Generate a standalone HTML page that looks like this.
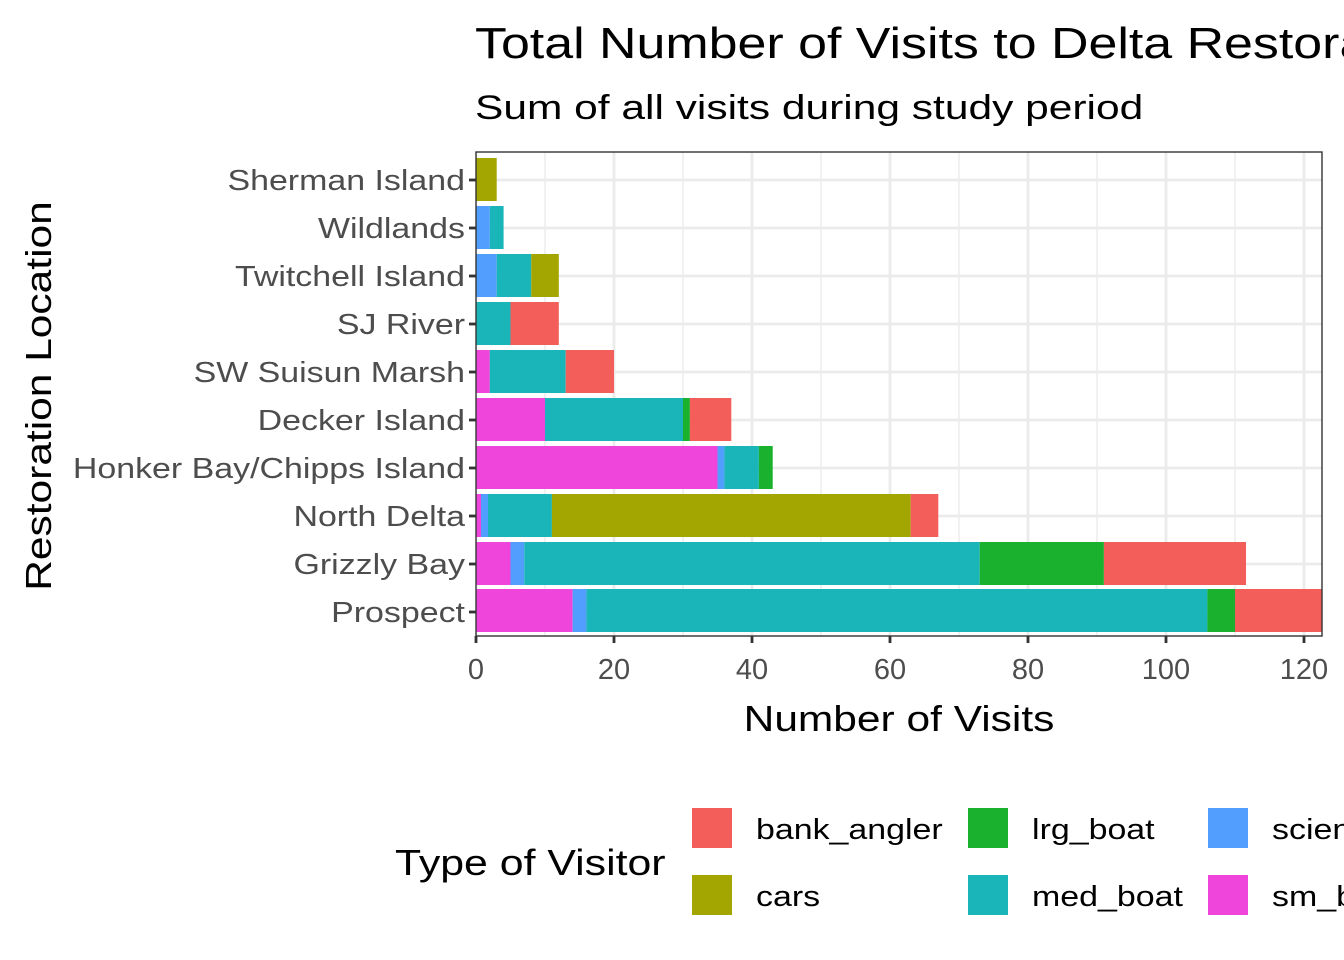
<!DOCTYPE html>
<html><head><meta charset="utf-8"><style>
html,body{margin:0;padding:0;background:#fff;}
svg{display:block;font-family:"Liberation Sans",Arial,sans-serif;}
</style></head><body>
<svg width="1344" height="960" viewBox="0 0 1344 960" xmlns="http://www.w3.org/2000/svg">
<rect width="1344" height="960" fill="#fff"/>
<text x="475" y="58" font-size="44" fill="#000" transform="matrix(1.18,0,0,1,-85.5,0)">Total Number of Visits to Delta Restoration Sites</text>
<text x="475" y="119" font-size="34" fill="#000" transform="matrix(1.25,0,0,1,-118.75,0)">Sum of all visits during study period</text>
<defs><clipPath id="p"><rect x="476" y="152" width="846" height="484"/></clipPath></defs>
<g clip-path="url(#p)">
<g stroke="#ebebeb" stroke-width="1.4">
<line x1="545" y1="152" x2="545" y2="636"/><line x1="683" y1="152" x2="683" y2="636"/><line x1="821" y1="152" x2="821" y2="636"/><line x1="959" y1="152" x2="959" y2="636"/><line x1="1097" y1="152" x2="1097" y2="636"/><line x1="1235" y1="152" x2="1235" y2="636"/>
</g>
<g stroke="#ebebeb" stroke-width="2.8">
<line x1="476" y1="152" x2="476" y2="636"/><line x1="614" y1="152" x2="614" y2="636"/><line x1="752" y1="152" x2="752" y2="636"/><line x1="890" y1="152" x2="890" y2="636"/><line x1="1028" y1="152" x2="1028" y2="636"/><line x1="1166" y1="152" x2="1166" y2="636"/><line x1="1304" y1="152" x2="1304" y2="636"/>
<line x1="476" y1="180" x2="1322" y2="180"/><line x1="476" y1="228" x2="1322" y2="228"/><line x1="476" y1="276" x2="1322" y2="276"/><line x1="476" y1="324" x2="1322" y2="324"/><line x1="476" y1="372" x2="1322" y2="372"/><line x1="476" y1="420" x2="1322" y2="420"/><line x1="476" y1="468" x2="1322" y2="468"/><line x1="476" y1="516" x2="1322" y2="516"/><line x1="476" y1="564" x2="1322" y2="564"/><line x1="476" y1="612" x2="1322" y2="612"/>
</g>
<rect x="476" y="158" width="20.7" height="43" fill="#A3A500"/>
<rect x="476" y="206" width="13.8" height="43" fill="#529EFF"/>
<rect x="489.8" y="206" width="13.8" height="43" fill="#19B5B9"/>
<rect x="476" y="254" width="20.7" height="43" fill="#529EFF"/>
<rect x="496.7" y="254" width="34.5" height="43" fill="#19B5B9"/>
<rect x="531.2" y="254" width="27.6" height="43" fill="#A3A500"/>
<rect x="476" y="302" width="34.5" height="43" fill="#19B5B9"/>
<rect x="510.5" y="302" width="48.3" height="43" fill="#F35E5A"/>
<rect x="476" y="350" width="13.8" height="43" fill="#F045DA"/>
<rect x="489.8" y="350" width="75.9" height="43" fill="#19B5B9"/>
<rect x="565.7" y="350" width="48.3" height="43" fill="#F35E5A"/>
<rect x="476" y="398" width="69" height="43" fill="#F045DA"/>
<rect x="545" y="398" width="138" height="43" fill="#19B5B9"/>
<rect x="683" y="398" width="6.9" height="43" fill="#1AB12F"/>
<rect x="689.9" y="398" width="41.4" height="43" fill="#F35E5A"/>
<rect x="476" y="446" width="241.5" height="43" fill="#F045DA"/>
<rect x="717.5" y="446" width="6.9" height="43" fill="#529EFF"/>
<rect x="724.4" y="446" width="34.5" height="43" fill="#19B5B9"/>
<rect x="758.9" y="446" width="13.8" height="43" fill="#1AB12F"/>
<rect x="476" y="494" width="5" height="43" fill="#F045DA"/>
<rect x="481" y="494" width="7" height="43" fill="#529EFF"/>
<rect x="488" y="494" width="63.9" height="43" fill="#19B5B9"/>
<rect x="551.9" y="494" width="358.8" height="43" fill="#A3A500"/>
<rect x="910.7" y="494" width="27.6" height="43" fill="#F35E5A"/>
<rect x="476" y="542" width="34.5" height="43" fill="#F045DA"/>
<rect x="510.5" y="542" width="13.8" height="43" fill="#529EFF"/>
<rect x="524.3" y="542" width="455.4" height="43" fill="#19B5B9"/>
<rect x="979.7" y="542" width="124.2" height="43" fill="#1AB12F"/>
<rect x="1103.9" y="542" width="142.1" height="43" fill="#F35E5A"/>
<rect x="476" y="589" width="96.6" height="43" fill="#F045DA"/>
<rect x="572.6" y="589" width="13.8" height="43" fill="#529EFF"/>
<rect x="586.4" y="589" width="621" height="43" fill="#19B5B9"/>
<rect x="1207.4" y="589" width="27.6" height="43" fill="#1AB12F"/>
<rect x="1235" y="589" width="90" height="43" fill="#F35E5A"/>
</g>
<rect x="476" y="152" width="846" height="484" fill="none" stroke="#333" stroke-width="1.4"/>
<g stroke="#333" stroke-width="2.8">
<line x1="476" y1="636" x2="476" y2="643"/><line x1="614" y1="636" x2="614" y2="643"/><line x1="752" y1="636" x2="752" y2="643"/><line x1="890" y1="636" x2="890" y2="643"/><line x1="1028" y1="636" x2="1028" y2="643"/><line x1="1166" y1="636" x2="1166" y2="643"/><line x1="1304" y1="636" x2="1304" y2="643"/>
<line x1="469" y1="180" x2="476" y2="180"/><line x1="469" y1="228" x2="476" y2="228"/><line x1="469" y1="276" x2="476" y2="276"/><line x1="469" y1="324" x2="476" y2="324"/><line x1="469" y1="372" x2="476" y2="372"/><line x1="469" y1="420" x2="476" y2="420"/><line x1="469" y1="468" x2="476" y2="468"/><line x1="469" y1="516" x2="476" y2="516"/><line x1="469" y1="564" x2="476" y2="564"/><line x1="469" y1="612" x2="476" y2="612"/>
</g>
<g font-size="29" fill="#4d4d4d" text-anchor="end" transform="matrix(1.17,0,0,1,-79.05,0)">
<text x="465" y="190">Sherman Island</text><text x="465" y="238">Wildlands</text><text x="465" y="286">Twitchell Island</text><text x="465" y="334">SJ River</text><text x="465" y="382">SW Suisun Marsh</text><text x="465" y="430">Decker Island</text><text x="465" y="478">Honker Bay/Chipps Island</text><text x="465" y="526">North Delta</text><text x="465" y="574">Grizzly Bay</text><text x="465" y="622">Prospect</text>
</g>
<g font-size="29" fill="#4d4d4d" text-anchor="middle">
<text x="476" y="679">0</text><text x="614" y="679">20</text><text x="752" y="679">40</text><text x="890" y="679">60</text><text x="1028" y="679">80</text><text x="1166" y="679">100</text><text x="1304" y="679">120</text>
</g>
<text x="899" y="731" font-size="36" text-anchor="middle" fill="#000" transform="matrix(1.18,0,0,1,-161.8,0)">Number of Visits</text>
<g transform="translate(51,396) rotate(-90)"><text x="0" y="0" font-size="36" text-anchor="middle" fill="#000" transform="scale(1.18,1)">Restoration Location</text></g>
<text x="395" y="875" font-size="36" fill="#000" transform="matrix(1.19,0,0,1,-75,0)">Type of Visitor</text>
<rect x="692" y="808" width="40" height="40" fill="#F35E5A"/><text x="756" y="839" font-size="29" fill="#000" transform="matrix(1.17,0,0,1,-128.5,0)">bank_angler</text>
<rect x="692" y="875" width="40" height="40" fill="#A3A500"/><text x="756" y="906" font-size="29" fill="#000" transform="matrix(1.17,0,0,1,-128.5,0)">cars</text>
<rect x="968" y="808" width="40" height="40" fill="#1AB12F"/><text x="1032" y="839" font-size="29" fill="#000" transform="matrix(1.17,0,0,1,-175.4,0)">lrg_boat</text>
<rect x="968" y="875" width="40" height="40" fill="#19B5B9"/><text x="1032" y="906" font-size="29" fill="#000" transform="matrix(1.17,0,0,1,-175.4,0)">med_boat</text>
<rect x="1208" y="808" width="40" height="40" fill="#529EFF"/><text x="1272" y="839" font-size="29" fill="#000" transform="matrix(1.17,0,0,1,-216.2,0)">science</text>
<rect x="1208" y="875" width="40" height="40" fill="#F045DA"/><text x="1272" y="906" font-size="29" fill="#000" transform="matrix(1.17,0,0,1,-216.2,0)">sm_boat</text>
</svg>
</body></html>
